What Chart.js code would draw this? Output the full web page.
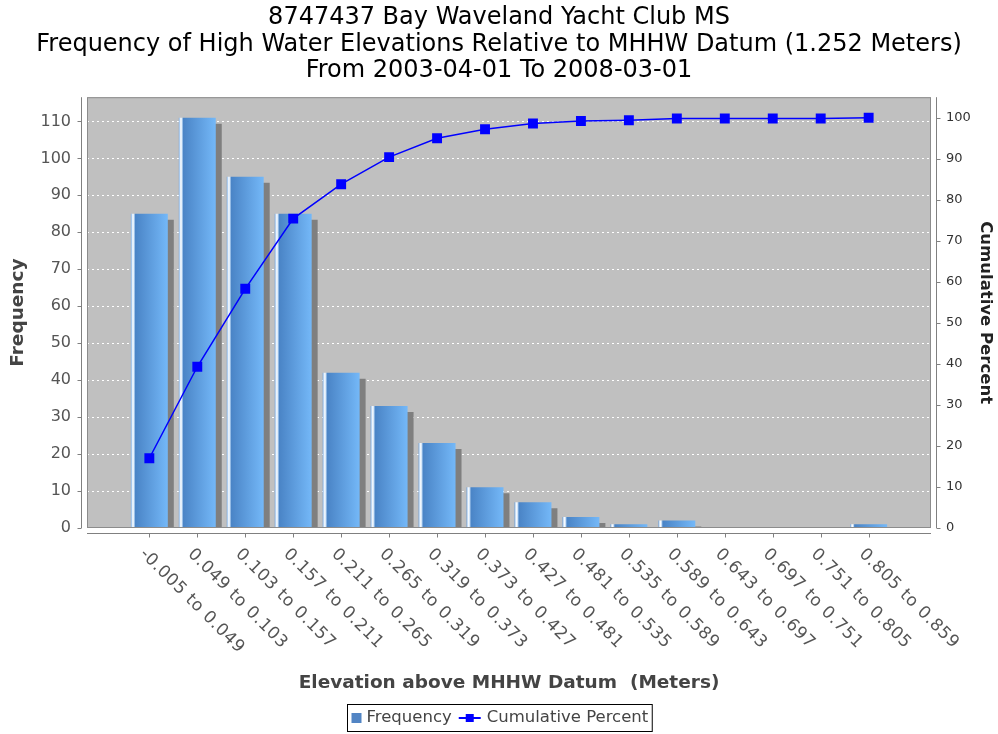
<!DOCTYPE html>
<html>
<head>
<meta charset="utf-8">
<script src="https://cdn.jsdelivr.net/npm/chart.js@4.4.0/dist/chart.umd.min.js"></script>
<style>
  html, body { margin: 0; padding: 0; background: #fff; }
  #chart { display: block; }
</style>
</head>
<body>
<canvas id="chart" width="998" height="734"></canvas>
<script>
// values
const categories = [
  '-0.005 to 0.049', '0.049 to 0.103', '0.103 to 0.157', '0.157 to 0.211',
  '0.211 to 0.265', '0.265 to 0.319', '0.319 to 0.373', '0.373 to 0.427',
  '0.427 to 0.481', '0.481 to 0.535', '0.535 to 0.589', '0.589 to 0.643',
  '0.643 to 0.697', '0.697 to 0.751', '0.751 to 0.805', '0.805 to 0.859'
];
const frequency = [85, 111, 95, 85, 42, 33, 23, 11, 7, 3, 1, 2, 0, 0, 0, 1];
const cumulativePercent = [17.0, 39.3, 58.3, 75.4, 83.8, 90.4, 95.0, 97.2, 98.6, 99.2, 99.4, 99.8, 99.8, 99.8, 99.8, 100];
const titleLines = [
  '8747437 Bay Waveland Yacht Club MS',
  'Frequency of High Water Elevations Relative to MHHW Datum (1.252 Meters)',
  'From 2003-04-01 To 2008-03-01'
];

const FONT = "'DejaVu Sans', sans-serif";
const BAR_PCT = 0.77;

Chart.defaults.font.family = FONT;

function barFill(c) {
  const chart = c.chart;
  const xs = chart.scales.x;
  if (!xs || c.dataIndex === undefined) return '#4f8ad0';
  const cx = xs.getPixelForValue(c.dataIndex);
  const w = (xs.getPixelForValue(1) - xs.getPixelForValue(0)) * BAR_PCT;
  if (!isFinite(cx) || !isFinite(w) || w <= 0) return '#4f8ad0';
  const l = cx - w / 2;
  const g = chart.ctx.createLinearGradient(l, 0, l + w, 0);
  g.addColorStop(0, '#6d9fd9');
  g.addColorStop(0.03, '#cfe3f8');
  g.addColorStop(0.06, '#ffffff');
  g.addColorStop(0.09, '#bcd8f5');
  g.addColorStop(0.12, '#4a84c6');
  g.addColorStop(1, '#74b8f8');
  return g;
}

const decor = {
  id: 'decor',
  beforeDraw(chart) {
    const {ctx, chartArea: a} = chart;
    ctx.save();
    ctx.fillStyle = '#ffffff';
    ctx.fillRect(0, 0, chart.width, chart.height);
    ctx.fillStyle = '#c0c0c0';
    ctx.fillRect(a.left, a.top, a.right - a.left, a.bottom - a.top);
    ctx.restore();
  },
  beforeDatasetDraw(chart, args) {
    if (args.meta.type !== 'bar') return;
    const ctx = chart.ctx;
    ctx.save();
    ctx.shadowColor = '#7f7f7f';
    ctx.shadowOffsetX = 6;
    ctx.shadowOffsetY = 6;
    ctx.shadowBlur = 0;
  },
  afterDatasetDraw(chart, args) {
    if (args.meta.type !== 'bar') return;
    chart.ctx.restore();
  },
  afterDraw(chart) {
    const {ctx, chartArea: a, scales} = chart;
    ctx.save();
    // plot outline
    ctx.strokeStyle = '#8c8c8c';
    ctx.lineWidth = 1;
    ctx.strokeRect(a.left + 0.5, a.top + 0.5, a.right - a.left - 1, a.bottom - a.top - 1);

    ctx.strokeStyle = '#808080';
    ctx.beginPath();
    // left axis
    const lx = a.left - 5.5;
    ctx.moveTo(lx, a.top); ctx.lineTo(lx, a.bottom);
    scales.y.ticks.forEach(t => {
      const py = Math.round(scales.y.getPixelForValue(t.value)) + 0.5;
      ctx.moveTo(lx - 4, py); ctx.lineTo(lx, py);
    });
    // right axis
    const rx = a.right + 5.5;
    ctx.moveTo(rx, a.top); ctx.lineTo(rx, a.bottom);
    scales.y2.ticks.forEach(t => {
      const py = Math.round(scales.y2.getPixelForValue(t.value)) + 0.5;
      ctx.moveTo(rx, py); ctx.lineTo(rx + 4, py);
    });
    // category axis
    const by = a.bottom + 5.5;
    ctx.moveTo(a.left, by); ctx.lineTo(a.right, by);
    categories.forEach((c, i) => {
      const px = Math.round(scales.x.getPixelForValue(i)) + 0.5;
      ctx.moveTo(px, by); ctx.lineTo(px, by + 4);
    });
    ctx.stroke();

    // rotated category labels
    ctx.fillStyle = '#555555';
    ctx.font = '17px ' + FONT;
    ctx.letterSpacing = '0.6px';
    ctx.textAlign = 'left';
    ctx.textBaseline = 'middle';
    categories.forEach((c, i) => {
      const px = scales.x.getPixelForValue(i);
      ctx.save();
      ctx.translate(px - 7, by + 18);
      ctx.rotate(Math.PI / 4);
      ctx.fillText(c, 0, 0);
      ctx.restore();
    });
    ctx.letterSpacing = '0px';

    // legend
    const items = ['Frequency', 'Cumulative Percent'];
    ctx.font = '16.5px ' + FONT;
    const w1 = ctx.measureText(items[0]).width;
    const w2 = ctx.measureText(items[1]).width;
    const total = 4 + 10 + 5 + w1 + 7 + 22 + 6 + w2 + 4;
    const lx0 = Math.round(chart.width / 2 - total / 2) + 0.5;
    const ly0 = 704.5, lh = 27, cy = ly0 + lh / 2;
    ctx.strokeStyle = '#000000';
    ctx.strokeRect(lx0, ly0, total, lh);
    let x = lx0 + 4;
    ctx.fillStyle = '#5285c4';
    ctx.fillRect(x, cy - 5, 10, 10);
    x += 15;
    ctx.fillStyle = '#444444';
    ctx.fillText(items[0], x, cy);
    x += w1 + 7;
    ctx.strokeStyle = '#0000ff';
    ctx.lineWidth = 2;
    ctx.beginPath(); ctx.moveTo(x, cy); ctx.lineTo(x + 22, cy); ctx.stroke();
    ctx.fillStyle = '#0000ff';
    ctx.fillRect(x + 7, cy - 4, 8, 8);
    x += 28;
    ctx.fillStyle = '#444444';
    ctx.fillText(items[1], x, cy);
    ctx.restore();
  }
};

const ctx = document.getElementById('chart');

new Chart(ctx, {
  data: {
    datasets: [
      {
        type: 'line',
        label: 'Cumulative Percent',
        data: cumulativePercent.map((v, i) => ({x: i, y: v})),
        yAxisID: 'y2',
        borderColor: '#0000ff',
        borderWidth: 1.5,
        pointStyle: 'rect',
        pointRadius: 7,
        pointBorderWidth: 0,
        pointBackgroundColor: '#0000ff',
        tension: 0,
        order: 0
      },
      {
        type: 'bar',
        label: 'Frequency',
        data: frequency.map((v, i) => ({x: i, y: v})),
        yAxisID: 'y',
        backgroundColor: barFill,
        borderWidth: 0,
        categoryPercentage: 1,
        barPercentage: BAR_PCT,
        clip: 0,
        order: 1
      }
    ]
  },
  options: {
    responsive: false,
    animation: false,
    devicePixelRatio: 1,
    layout: { padding: { bottom: 34 } },
    plugins: {
      legend: { display: false },
      tooltip: { enabled: false },
      title: {
        display: true,
        text: titleLines,
        color: '#000000',
        font: { size: 24, weight: 'normal', lineHeight: 1.1 },
        padding: { top: 5, bottom: 13 }
      }
    },
    scales: {
      x: {
        type: 'linear',
        min: -0.75,
        max: 15.75,
        grid: { display: false, drawTicks: false },
        border: { display: false },
        ticks: { display: false, stepSize: 1, includeBounds: false },
        title: {
          display: true,
          text: 'Elevation above MHHW Datum  (Meters)',
          color: '#444444',
          font: { size: 18.5, weight: 'bold' },
          padding: { top: 0, bottom: 6 }
        },
        afterFit(s) { s.height = 172; }
      },
      y: {
        position: 'left',
        min: 0,
        max: 116.55,
        grid: { color: '#ffffff', drawTicks: false, lineWidth: 1 },
        border: { display: false, dash: [2, 3] },
        ticks: { stepSize: 10, includeBounds: false, color: '#555555', font: { size: 16 }, padding: 16 },
        title: {
          display: true,
          text: 'Frequency',
          color: '#444444',
          font: { size: 18.5, weight: 'bold' },
          padding: { top: 7, bottom: 0 }
        },
        afterFit(s) { s.width = 87; }
      },
      y2: {
        position: 'right',
        min: 0,
        max: 105,
        grid: { display: false, drawTicks: false },
        border: { display: false },
        ticks: { stepSize: 10, includeBounds: false, color: '#333333', font: { size: 13 }, padding: 15 },
        title: {
          display: true,
          text: 'Cumulative Percent',
          color: '#222222',
          font: { size: 16.5, weight: 'bold' },
          padding: { top: 3, bottom: 0 }
        },
        afterFit(s) { s.width = 67; }
      }
    }
  },
  plugins: [decor]
});
</script>
</body>
</html>
